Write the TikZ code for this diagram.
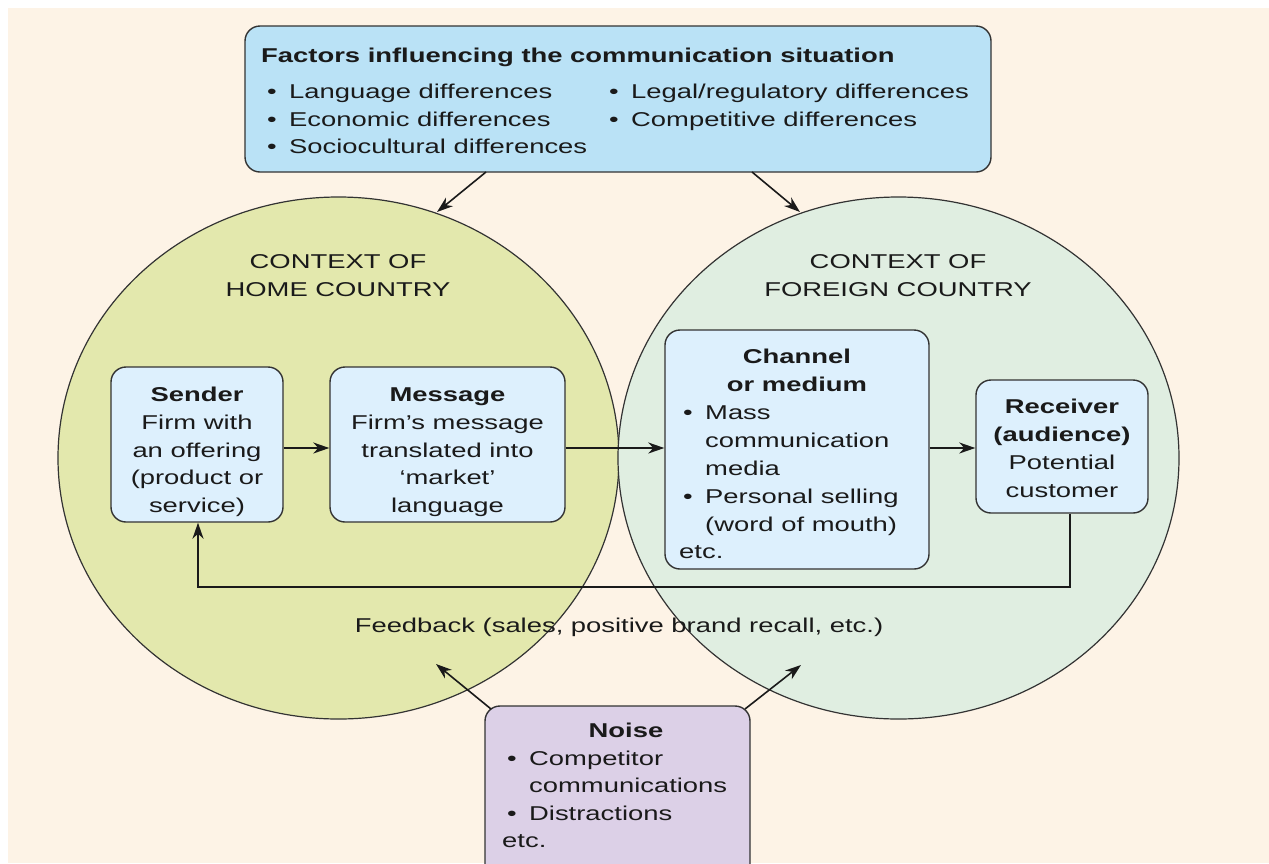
\documentclass[tikz,border=0pt]{standalone}
\usepackage{fontspec}
\setmainfont[FakeStretch=1.37]{Liberation Sans}
\usetikzlibrary{arrows.meta,shapes.geometric}
\definecolor{cream}{HTML}{FDF3E6}
\definecolor{topblue}{HTML}{BAE2F6}
\definecolor{homecol}{HTML}{E3E8AD}
\definecolor{foreigncol}{HTML}{E0EEE1}
\definecolor{boxblue}{HTML}{DDF0FD}
\definecolor{noisecol}{HTML}{DCD0E7}
\definecolor{edgecol}{HTML}{333333}
\definecolor{ink}{HTML}{1A1A1A}
\newcommand\fsz{\fontsize{20}{27.75}\selectfont}
\newcommand\bul[1]{\makebox[22pt][l]{\textbullet}#1}
\begin{document}
\begin{tikzpicture}[x=1pt,y=-1pt,
  box/.style={draw=edgecol, line width=1.4pt, rounded corners=15pt, inner sep=0},
  ctx/.style={draw=edgecol, line width=1.2pt, ellipse, inner sep=0},
  t/.style={inner sep=0, text=ink, font=\fsz, anchor=base},
  tb/.style={t, font=\fsz\bfseries},
  tl/.style={t, anchor=base west},
  arr/.style={draw=ink, line width=1.6pt, -{Stealth[length=16pt,width=11pt,inset=5pt]}},
  ]
\useasboundingbox (0,0) rectangle (1269,863);
\clip (0,0) rectangle (1269,863);
\fill[white] (0,0) rectangle (1269,863);
\fill[cream] (8,8) rectangle (1269,863);

% contexts
\node[ctx, fill=homecol, minimum width=561, minimum height=522] (home) at (338.5,458) {};
\node[ctx, fill=foreigncol, minimum width=561, minimum height=522] (foreign) at (898.5,458) {};
\node[t] (h1) at (338,268) {CONTEXT OF};
\node[t] (h2) at (338,296) {HOME COUNTRY};
\node[t] (g1) at (898,268) {CONTEXT OF};
\node[t] (g2) at (898,296) {FOREIGN COUNTRY};

% factors box
\node[box, fill=topblue, minimum width=746, minimum height=146] (factors) at (618,99) {};
\node[tb, anchor=base west] (ftitle) at (261,62) {Factors influencing the communication situation};
\node[tl] (f1) at (267,98) {\bul{Language differences}};
\node[tl] (f2) at (267,126) {\bul{Economic differences}};
\node[tl] (f3) at (267,153) {\bul{Sociocultural differences}};
\node[tl] (f4) at (609,98) {\bul{Legal/regulatory differences}};
\node[tl] (f5) at (609,126) {\bul{Competitive differences}};

% sender
\node[box, fill=boxblue, minimum width=172, minimum height=155] (sender) at (197,444.5) {};
\node[tb] (s1) at (197,401) {Sender};
\node[t] (s2) at (197,429) {Firm with};
\node[t] (s3) at (197,457) {an offering};
\node[t] (s4) at (197,484) {(product or};
\node[t] (s5) at (197,512) {service)};

% message
\node[box, fill=boxblue, minimum width=235, minimum height=155] (message) at (447.5,444.5) {};
\node[tb] (m1) at (447.5,401) {Message};
\node[t] (m2) at (447.5,429) {Firm’s message};
\node[t] (m3) at (447.5,457) {translated into};
\node[t] (m4) at (447.5,484) {‘market’};
\node[t] (m5) at (447.5,512) {language};

% channel
\node[box, fill=boxblue, minimum width=264, minimum height=239] (channel) at (797,449.5) {};
\node[tb] (c1) at (797,363) {Channel};
\node[tb] (c2) at (797,391) {or medium};
\node[tl] (c3) at (683,419) {\bul{Mass}};
\node[tl] (c4) at (705,447) {communication};
\node[tl] (c5) at (705,475) {media};
\node[tl] (c6) at (683,503) {\bul{Personal selling}};
\node[tl] (c7) at (705,531) {(word of mouth)};
\node[tl] (c8) at (679,558) {etc.};

% receiver
\node[box, fill=boxblue, minimum width=172, minimum height=133] (receiver) at (1062,446.5) {};
\node[tb] (r1) at (1062,413) {Receiver};
\node[tb] (r2) at (1062,441) {(audience)};
\node[t] (r3) at (1062,469) {Potential};
\node[t] (r4) at (1062,497) {customer};

% noise
\node[box, fill=noisecol, minimum width=265, minimum height=174] (noise) at (617.5,793) {};
\node[tb] (n1) at (626,737) {Noise};
\node[tl] (n2) at (507,765) {\bul{Competitor}};
\node[tl] (n3) at (529,792) {communications};
\node[tl] (n4) at (507,820) {\bul{Distractions}};
\node[tl] (n5) at (502,847) {etc.};

% feedback label
\node[t] (fb) at (619,632) {Feedback (sales, positive brand recall, etc.)};

% connectors
\coordinate (flow) at (0,448);
\draw[arr] (sender.east |- flow) -- (message.west |- flow);
\draw[arr] (message.east |- flow) -- (channel.west |- flow);
\draw[arr] (channel.east |- flow) -- (receiver.west |- flow);
\coordinate (fbR) at (1070,587);
\coordinate (fbL) at (198,587);
\draw[arr] (receiver.south -| fbR) -- (fbR) -- (fbL) -- (sender.south -| fbL);

\coordinate (fa) at (486,172);
\coordinate (fb2) at (752,172);
\coordinate (homeTop) at (437,212);
\coordinate (foreignTop) at (800,212);
\draw[arr] (fa) -- (homeTop);
\draw[arr] (fb2) -- (foreignTop);

\coordinate (na) at (491,709);
\coordinate (nb) at (745,709);
\coordinate (homeBot) at (436,664);
\coordinate (foreignBot) at (801,665);
\draw[arr] (na) -- (homeBot);
\draw[arr] (nb) -- (foreignBot);
\end{tikzpicture}
\end{document}
